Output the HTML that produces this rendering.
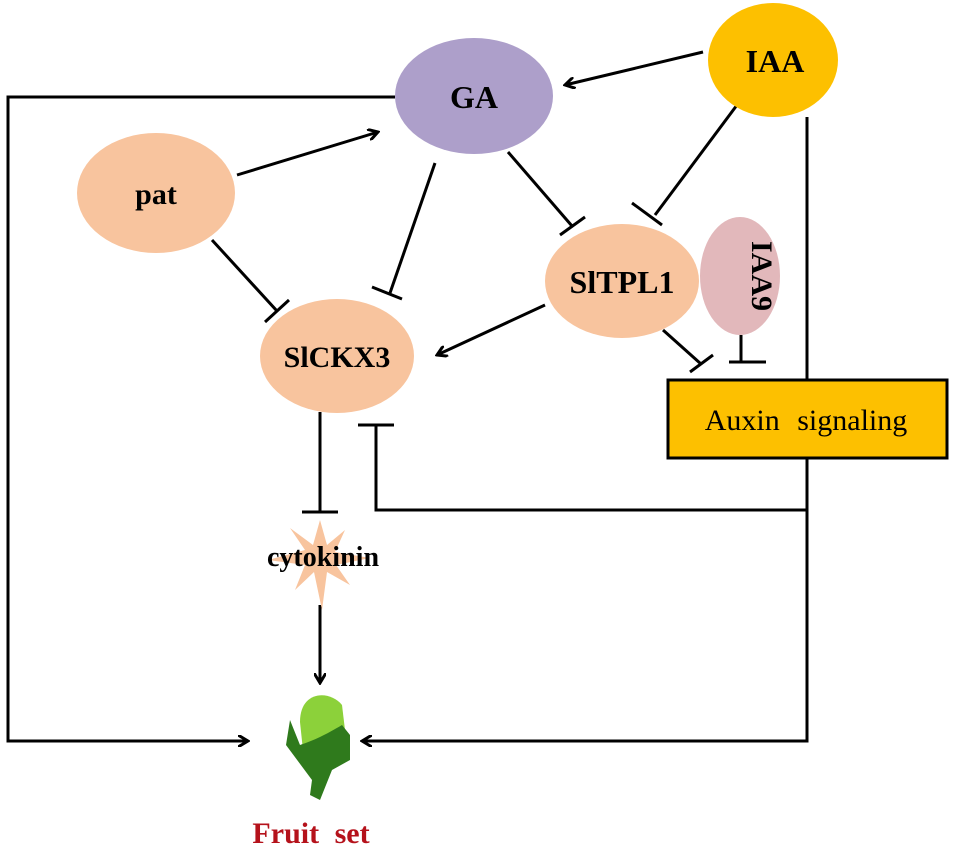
<!DOCTYPE html><html><head><style>body{margin:0;background:#fff}svg{display:block}</style></head><body>
<svg width="953" height="854" viewBox="0 0 953 854" xmlns="http://www.w3.org/2000/svg" font-family="Liberation Serif, serif" font-weight="bold">
<defs><marker id="a" markerWidth="12" markerHeight="12" refX="10" refY="6" orient="auto" markerUnits="userSpaceOnUse"><path d="M0,0 L10,6 L0,12" fill="none" stroke="#000" stroke-width="3"/></marker></defs>
<g stroke="#000" stroke-width="3" fill="none">
<polyline points="395,97 8,97 8,741 248,741" marker-end="url(#a)"/>
<polyline points="807,117 807,741 362,741" marker-end="url(#a)"/>
<polyline points="807,510 376,510 376,425"/><line x1="358" y1="425" x2="394" y2="425"/>
<line x1="320" y1="412" x2="320" y2="512"/><line x1="302" y1="512" x2="338" y2="512"/>
<line x1="320" y1="605" x2="320" y2="683" marker-end="url(#a)"/>
<line x1="237" y1="175" x2="378" y2="132" marker-end="url(#a)"/>
<line x1="703" y1="52" x2="565" y2="85" marker-end="url(#a)"/>
<line x1="545" y1="305" x2="437" y2="355" marker-end="url(#a)"/>
<line x1="435" y1="163" x2="390" y2="293"/><line x1="372" y1="287" x2="402" y2="299"/>
<line x1="212" y1="240" x2="277" y2="311"/><line x1="265" y1="322" x2="289" y2="300"/>
<line x1="508" y1="152" x2="572" y2="226"/><line x1="560" y1="235" x2="585" y2="217"/>
<line x1="737" y1="105" x2="655" y2="215"/><line x1="632" y1="203" x2="662" y2="225"/>
<line x1="663" y1="330" x2="701" y2="364"/><line x1="690" y1="372" x2="713" y2="355"/>
<line x1="741" y1="335" x2="741" y2="362"/><line x1="729" y1="362" x2="766" y2="362"/>
</g>
<ellipse cx="474" cy="96" rx="79" ry="58" fill="#ad9fca"/>
<ellipse cx="773" cy="60" rx="65" ry="57" fill="#fdc000"/>
<ellipse cx="156" cy="193" rx="79" ry="60" fill="#f8c49e"/>
<ellipse cx="622" cy="281" rx="77" ry="57" fill="#f8c49e"/>
<ellipse cx="740" cy="276" rx="40" ry="59" fill="#e2b8bb"/>
<ellipse cx="337" cy="356" rx="77" ry="57" fill="#f8c49e"/>
<rect x="668" y="380" width="279" height="78" fill="#fdc000" stroke="#000" stroke-width="3"/>
<polygon points="320,520 327,545 345,530 335,552 370,558 336,565 350,585 327,572 322,610 314,572 295,590 305,565 268,560 305,550 290,528 313,545" fill="#f8c49e"/>
<text x="474" y="108" font-size="32" text-anchor="middle">GA</text>
<text x="775" y="72" font-size="32" text-anchor="middle">IAA</text>
<text x="156" y="204" font-size="30" text-anchor="middle">pat</text>
<text x="622" y="293" font-size="32" text-anchor="middle">SlTPL1</text>
<text x="337" y="367" font-size="30" text-anchor="middle">SlCKX3</text>
<text transform="translate(752,276) rotate(90)" font-size="30" text-anchor="middle">IAA9</text>
<text x="806" y="430" font-size="30" text-anchor="middle" font-weight="normal" word-spacing="10">Auxin signaling</text>
<text x="323" y="566" font-size="28" text-anchor="middle">cytokinin</text>
<path d="M300,722 C300,690 330,690 342,705 L345,730 L336,760 L316,772 L304,760 Z" fill="#8cd13a"/>
<path d="M286,745 L290,720 L300,745 C315,740 325,735 342,725 L350,735 L350,760 L332,770 L320,800 L310,795 L312,780 Z" fill="#2f7a1c"/>
<text x="311" y="843" font-size="30" fill="#b5121b" text-anchor="middle" word-spacing="8">Fruit set</text>
</svg></body></html>
